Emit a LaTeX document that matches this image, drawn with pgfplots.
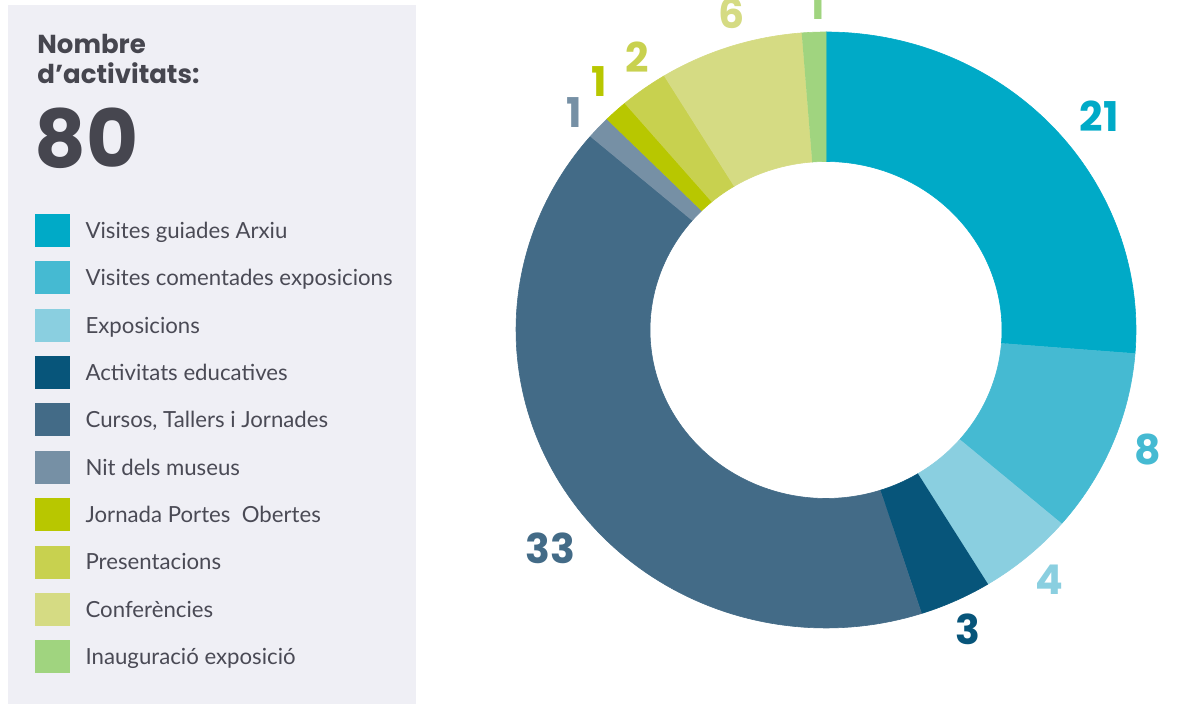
\documentclass[border=0pt]{standalone}
\usepackage{pgfplots}
\pgfplotsset{compat=1.18}
\usepackage{fontspec}
\setmainfont{Lato}
\newfontfamily\pop{Poppins}
\definecolor{c1}{HTML}{00AAC7}
\definecolor{c2}{HTML}{45BAD2}
\definecolor{c3}{HTML}{8ACFE0}
\definecolor{c4}{HTML}{07557A}
\definecolor{c5}{HTML}{436B87}
\definecolor{c6}{HTML}{7690A5}
\definecolor{c7}{HTML}{B8C700}
\definecolor{c8}{HTML}{C8D14F}
\definecolor{c9}{HTML}{D5DB83}
\definecolor{c10}{HTML}{A0D47F}
\definecolor{panel}{HTML}{EFEFF5}
\definecolor{dark}{HTML}{46464F}
\definecolor{legtext}{HTML}{4A4A55}
% #1 = cumulative count before the slice, #2 = value, #3 = colour
\newcommand\slice[3]{%
  \addplot[fill=#3, draw=#3, line width=0.3pt]
   ({826+((x<100.5)?310:176)*sin(4.5*((x<100.5)?(#1+#2*x/100):(#1+#2-#2*(x-101)/100)))},
    {330-((x<100.5)?298:168.5)*cos(4.5*((x<100.5)?(#1+#2*x/100):(#1+#2-#2*(x-101)/100)))});
}
\newcommand\numfont{\pop\bfseries\fontsize{20.5}{24}\selectfont}
\begin{document}
\begin{tikzpicture}
\useasboundingbox (0,0) rectangle (600pt,352pt);
\clip (0,0) rectangle (600pt,352pt);
\begin{axis}[
  at={(0,0)}, anchor=south west,
  x=0.5pt, y=0.5pt,
  xmin=0, xmax=1200, ymin=0, ymax=704,
  y dir=reverse,
  hide axis,
  domain=0:201, samples=202,
  legend cell align=left,
  legend image code/.code={\fill[#1] (0pt,-8pt) rectangle (17pt,8pt);},
  legend style={at={(axis cs:35,214)}, anchor=north west,
    draw=none, fill=none, inner sep=0pt, outer sep=0pt,
    row sep=7.38pt,
    font=\fontsize{11.1}{13}\selectfont, text=legtext,
    nodes={inner sep=0pt, text height=8pt, text depth=0pt},
    /tikz/every odd column/.append style={column sep=8pt}},
]
\fill[panel] (axis cs:8,5) rectangle (axis cs:416,710);

\slice{0}{21}{c1}   \addlegendentry{Visites guiades Arxiu}
\slice{21}{8}{c2}   \addlegendentry{Visites comentades exposicions}
\slice{29}{4}{c3}   \addlegendentry{Exposicions}
\slice{33}{3}{c4}   \addlegendentry{Activitats educatives}
\slice{36}{33}{c5}  \addlegendentry{Cursos, Tallers i Jornades}
\slice{69}{1}{c6}   \addlegendentry{Nit dels museus}
\slice{70}{1}{c7}   \addlegendentry{Jornada Portes\ \ Obertes}
\slice{71}{2}{c8}   \addlegendentry{Presentacions}
\slice{73}{6}{c9}   \addlegendentry{Conferències}
\slice{79}{1}{c10}  \addlegendentry{Inauguració exposició}

\node[anchor=base west, inner sep=0pt, font=\pop\bfseries\fontsize{13}{15}\selectfont, text=dark] at (axis cs:37,54) {Nombre};
\node[anchor=base west, inner sep=0pt, font=\pop\bfseries\fontsize{13}{15}\selectfont, text=dark] at (axis cs:37,84) {d’activitats:};
\node[anchor=base west, inner sep=0pt, font=\pop\bfseries\fontsize{40}{44}\selectfont, text=dark] at (axis cs:34,168) {80};

\node[inner sep=0pt, font=\numfont, text=c1]  at (axis cs:1099,116) {21};
\node[inner sep=0pt, font=\numfont, text=c2]  at (axis cs:1148,450) {8};
\node[inner sep=0pt, font=\numfont, text=c3]  at (axis cs:1049,580) {4};
\node[inner sep=0pt, font=\numfont, text=c4]  at (axis cs:968,629) {3};
\node[inner sep=0pt, font=\numfont, text=c5]  at (axis cs:550,548) {33};
\node[inner sep=0pt, font=\numfont, text=c6]  at (axis cs:574,113) {1};
\node[inner sep=0pt, font=\numfont, text=c7]  at (axis cs:599,82) {1};
\node[inner sep=0pt, font=\numfont, text=c8]  at (axis cs:637,57) {2};
\node[inner sep=0pt, font=\numfont, text=c9]  at (axis cs:732,13) {6};
\node[inner sep=0pt, font=\numfont, text=c10] at (axis cs:817,5) {1};
\end{axis}
\end{tikzpicture}
\end{document}
